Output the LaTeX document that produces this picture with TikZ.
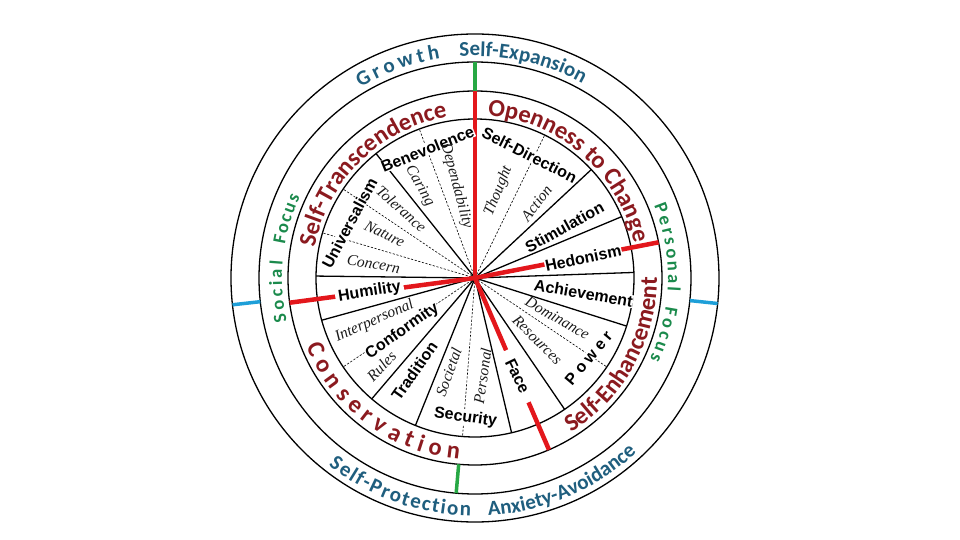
\documentclass[tikz,border=0pt]{standalone}
\usepackage{fontspec}
\setmainfont{Liberation Serif}
\setsansfont{Liberation Sans}
\newfontfamily\ringfont{Carlito}
\usetikzlibrary{decorations.text}
\definecolor{ink}{HTML}{1A1A1A}
\definecolor{wine}{HTML}{8B1A1F}
\definecolor{petrol}{HTML}{1F5E7E}
\definecolor{leaf}{HTML}{1B8A4C}
\definecolor{signal}{HTML}{E3171C}
\definecolor{grass}{HTML}{27A844}
\definecolor{sky}{HTML}{1E9FD8}
\newcommand\bandfmt{\ringfont\bfseries\fontsize{24.5}{24.5}\selectfont\color{wine}}
\newcommand\outerfmt{\ringfont\bfseries\fontsize{21}{21}\selectfont\color{petrol}}
\newcommand\focusfmt{\ringfont\bfseries\fontsize{18.5}{18.5}\selectfont\color{leaf}}

\begin{document}
\begin{tikzpicture}[x=1pt,y=1pt,
  vlabel/.style={font=\sffamily\bfseries\fontsize{16}{16}\selectfont,
    fill=white,inner sep=0.5pt},
  flabel/.style={font=\rmfamily\itshape\fontsize{15.5}{15.5}\selectfont,
    text=ink,inner sep=0pt},
  rim/.style={line width=1.3pt,draw=black},
  spokeline/.style={line width=1.3pt,draw=black},
  facetline/.style={line width=0.6pt,dash pattern=on 2.2pt off 1.6pt},
  majorline/.style={line width=4.5pt,draw=signal},
  bandseg/.style={line width=3.5pt},
  arcword/.style 2 args={decorate,
    decoration={text along path,text align={#1},text={#2}}}]
  \useasboundingbox (-475,-262) rectangle (485,278);
  \coordinate (c) at (0,0);

  % Rings
  \foreach \r in {244,216,187,159}
    \draw[rim] (c) circle[radius=\r];

  % Value borders and facet borders
  \foreach \a in {90,43,22.7,2,-17.6,-55.7,-76.7,248,229.5,195.4,179.3,128.5}
    \draw[spokeline] (c) -- (\a:159);
  \foreach \a in {110.5,146,163.5,64,-34,265.5,214}
    \draw[facetline] (c) -- (\a:159);

  % Higher-order borders and the two outer divisions
  \foreach \a in {90,11,187.6,-66.7}
    \draw[majorline] (c) -- (\a:187);
  \draw[bandseg,draw=grass] (90:187) -- (90:216);
  \draw[bandseg,draw=grass] (-95:187) -- (-95:216);
  \draw[bandseg,draw=sky] (-6:216) -- (-6:244);
  \draw[bandseg,draw=sky] (186.3:216) -- (186.3:244);

  % Values
  \node[vlabel,rotate=22] (benevolence) at (110.2:137.5) {Benevolence};
  \node[vlabel,rotate=-27] (selfdir) at (66.1:134.5) {Self-Direction};
  \node[vlabel,rotate=29] (stimulation) at (29.7:103) {Stimulation};
  \node[vlabel,rotate=12] (hedonism) at (10.4:110) {Hedonism};
  \node[vlabel,rotate=-10] (achievement) at (-7.9:109.5) {Achievement};
  \node[vlabel,rotate=50] (power) at (-35.2:139)
    {\addfontfeature{LetterSpace=25}Power};
  \node[vlabel,rotate=-64,inner xsep=10pt] (face) at (-66.6:107) {Face};
  \node[vlabel,rotate=-8] (security) at (-93.9:140) {Security};
  \node[vlabel,rotate=55] (tradition) at (236.9:111) {Tradition};
  \node[vlabel,rotate=35] (conformity) at (216.2:90) {Conformity};
  \node[vlabel,rotate=9,inner xsep=3pt] (humility) at (187.6:106.4) {Humility};
  \node[vlabel,rotate=62] (universalism) at (156.3:137) {Universalism};

  % Facets
  \node[flabel,rotate=-75] (dependability) at (101.4:94) {Dependability};
  \node[flabel,rotate=-60] (caring) at (121.1:107.4) {Caring};
  \node[flabel,rotate=-42] (tolerance) at (136.8:101) {Tolerance};
  \node[flabel,rotate=-26] (nature) at (154:100.6) {Nature};
  \node[flabel,rotate=-10] (concern) at (172.1:102.5) {Concern};
  \node[flabel,rotate=68] (thought) at (74.9:90) {Thought};
  \node[flabel,rotate=53] (action) at (50.6:97) {Action};
  \node[flabel,rotate=-30] (dominance) at (-25.9:91.7) {Dominance};
  \node[flabel,rotate=-45] (resources) at (-44.8:88) {Resources};
  \node[flabel,rotate=82] (personal) at (-85.6:98.3) {Personal};
  \node[flabel,rotate=70] (societal) at (254.3:97.7) {Societal};
  \node[flabel,rotate=46] (rules) at (223.3:128.4) {Rules};
  \node[flabel,rotate=24] (interpersonal) at (203.2:109.3) {Interpersonal};

  % Higher-order values
  \path[arcword={center}{|\bandfmt|Self-Transcendence}]
    (173:163) arc[start angle=173,end angle=96,radius=163];
  \path[arcword={center}{|\bandfmt|Openness to Change}]
    (86:163) arc[start angle=86,end angle=12,radius=163];
  \path[arcword={center}{|\bandfmt|Self-Enhancement}]
    (-64:182) arc[start angle=-64,end angle=6,radius=182];
  \path[arcword={fit to path}{|\bandfmt|Conservation}]
    (202:182) arc[start angle=202,end angle=265,radius=182];

  % Focus band
  \path[arcword={fit to path}{|\focusfmt|Social}]
    (193:193) arc[start angle=193,end angle=175,radius=193];
  \path[arcword={fit to path}{|\focusfmt|Focus}]
    (170:193) arc[start angle=170,end angle=155,radius=193];
  \path[arcword={fit to path}{|\focusfmt|Personal}]
    (22:193) arc[start angle=22,end angle=-4,radius=193];
  \path[arcword={fit to path}{|\focusfmt|Focus}]
    (-8.5:193) arc[start angle=-8.5,end angle=-25,radius=193];

  % Outer band
  \path[arcword={fit to path}{|\outerfmt|Growth}]
    (121:222) arc[start angle=121,end angle=99,radius=222];
  \path[arcword={center}{|\outerfmt|Self-Expansion}]
    (98:222) arc[start angle=98,end angle=57,radius=222];
  \path[arcword={fit to path}{|\outerfmt|Self-Protection}]
    (232:238) arc[start angle=232,end angle=269,radius=238];
  \path[arcword={center}{|\outerfmt|Anxiety-Avoidance}]
    (-90:238) arc[start angle=-90,end angle=-44,radius=238];
\end{tikzpicture}
\end{document}
